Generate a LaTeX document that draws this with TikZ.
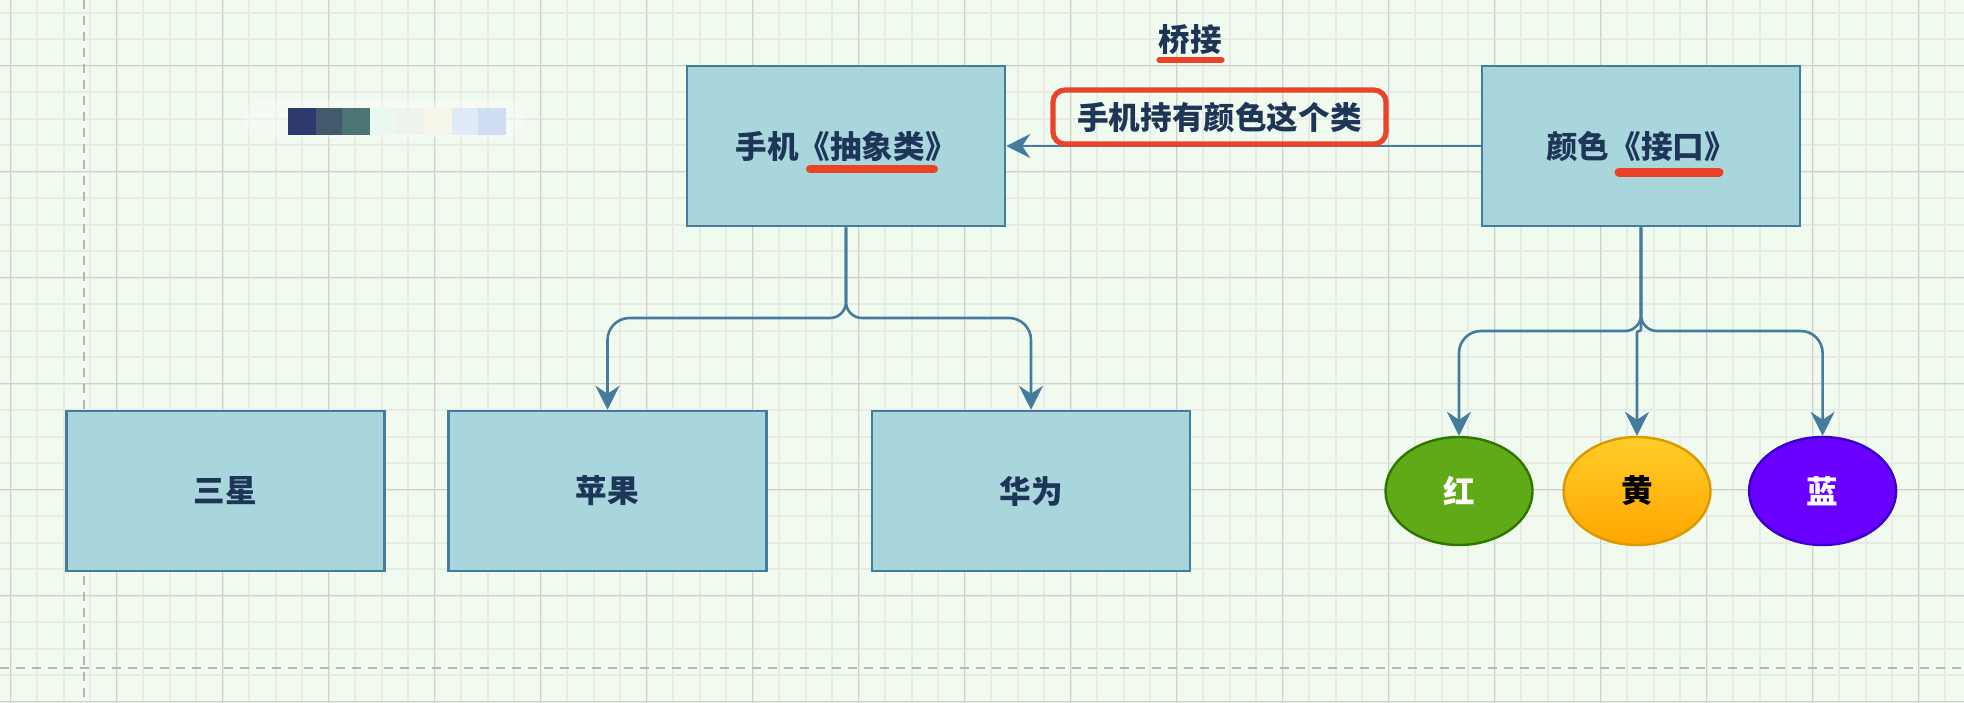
\documentclass[tikz,border=0pt]{standalone}
\usepackage{fontspec}
\setmainfont{Noto Sans CJK SC}
\usetikzlibrary{arrows.meta,shapes.geometric}
\definecolor{bg}{HTML}{F1FAEE}
\definecolor{minorgrid}{HTML}{E7EBE4}
\definecolor{majorgrid}{HTML}{CFD0CE}
\definecolor{dashgray}{HTML}{B5B5B5}
\definecolor{boxfill}{HTML}{A8D6DC}
\definecolor{boxline}{HTML}{457B9D}
\definecolor{txt}{HTML}{1D3557}
\definecolor{hl}{HTML}{E9432A}
\definecolor{greenfill}{HTML}{60A917}
\definecolor{greenline}{HTML}{2D7600}
\definecolor{yeltop}{HTML}{FFCD28}
\definecolor{yelbot}{HTML}{FFA500}
\definecolor{yelline}{HTML}{D79B00}
\definecolor{bluefill}{HTML}{6A00FF}
\definecolor{blueline}{HTML}{3700CC}
\definecolor{mzA}{HTML}{2E3A6E}
\definecolor{mzB}{HTML}{435A6C}
\definecolor{mzC}{HTML}{4B7572}
\definecolor{mzD}{HTML}{EAF8EF}
\definecolor{mzE}{HTML}{EEF3EE}
\definecolor{mzF}{HTML}{F5F6E9}
\definecolor{mzG}{HTML}{E0EBF8}
\definecolor{mzH}{HTML}{D1DDF5}
\newcommand\lblfont{\fontsize{15.8pt}{19pt}\selectfont\bfseries}
\tikzset{
  cls/.style={draw=boxline, fill=boxfill, line width=1.25pt, minimum width=159pt,
    minimum height=80pt, inner sep=0pt, text=txt, font=\lblfont},
  oval/.style={ellipse, line width=1.2pt, minimum width=73.5pt, minimum height=54pt,
    inner sep=0pt, font=\lblfont},
  edge/.style={draw=boxline, line width=1.3pt,
    -{Stealth[length=12pt,width=12pt,inset=4pt]}},
  hlmark/.style={draw=hl, line cap=round},
  minorln/.style={draw=minorgrid, line width=1pt},
  majorln/.style={draw=majorgrid, line width=0.6pt},
  pageln/.style={draw=dashgray, line width=1pt, dash pattern=on 4.5pt off 3.5pt},
}
\begin{document}
\begin{tikzpicture}[x=0.5pt,y=-0.5pt]
\useasboundingbox (0,0) rectangle (1964,702);
\fill[bg] (0,0) rectangle (1964,702);
% grid
\foreach \i in {0,...,73} \draw[minorln] ({10.7+26.5*\i},0) -- ({10.7+26.5*\i},702);
\foreach \j in {0,...,26} \draw[minorln] (0,{12.7+26.5*\j}) -- (1964,{12.7+26.5*\j});
\foreach \i in {0,...,18} \draw[majorln] ({10.7+106*\i},0) -- ({10.7+106*\i},702);
\foreach \j in {0,...,6} \draw[majorln] (0,{65.7+106*\j}) -- (1964,{65.7+106*\j});
% page borders (dashed)
\draw[pageln] (83.5,0) -- (83.5,702);
\draw[pageln] (0,668) -- (1964,668);
% mosaic
\fill[fill=white, opacity=0.35, rounded corners=8pt] (243,101) rectangle (525,138);
\fill[mzA] (288,108) rectangle (316,135);
\fill[mzB] (316,108) rectangle (342,135);
\fill[mzC] (342,108) rectangle (370,135);
\fill[mzD] (370,108) rectangle (395,135);
\fill[mzE] (395,108) rectangle (424,135);
\fill[mzF] (424,108) rectangle (452,135);
\fill[mzG] (452,108) rectangle (478,135);
\fill[mzH] (478,108) rectangle (506,135);
% classes
\node[cls] (phone) at (846,146) {手机《抽象类》};
\node[cls] (color) at (1641,146) {颜色《接口》};
\node[cls] (samsung) at (225.5,491) {三星};
\node[cls] (apple) at (607.5,491) {苹果};
\node[cls] (huawei) at (1031,491) {华为};
% colours
\node[oval, draw=greenline, fill=greenfill, text=white] (red) at (1459,491) {红};
\node[oval, draw=yelline, top color=yeltop, bottom color=yelbot, text=black] (yellow) at (1637,491) {黄};
\node[oval, draw=blueline, fill=bluefill, text=white] (blue) at (1822.6,491) {蓝};
% connectors
\coordinate (pj) at (846,318);
\draw[edge, rounded corners=8pt] (phone.south) -- (pj) [rounded corners=11pt] -| (apple.north);
\draw[edge, rounded corners=8pt] (phone.south) -- (pj) [rounded corners=11pt] -| (huawei.north);
\coordinate (cj) at (1641,331);
\draw[edge, rounded corners=8pt] (color.south) -- (cj) [rounded corners=11pt] -| (red.north);
\draw[edge, rounded corners=8pt] (color.south) -- (cj) [rounded corners=11pt] -| (blue.north);
\draw[edge, rounded corners=1pt] (color.south) -- (cj) -| (yellow.north);
\draw[edge] (color.west) -- (phone.east);
% labels
\node[text=txt, font=\lblfont] (title) at (1190,40) {桥接};
\node[draw=hl, line width=2.6pt, rounded corners=6pt, minimum width=166.5pt,
  minimum height=27pt, inner sep=0pt, text=txt, font=\lblfont] (note) at (1219.5,117) {手机持有颜色这个类};
% underlines
\draw[hlmark, line width=2.6pt] (1159,60) -- (1222,60);
\draw[hlmark, line width=4pt] (810,169) -- (934,169);
\draw[hlmark, line width=4.5pt] (1619,172) -- (1719,172);
\end{tikzpicture}
\end{document}
